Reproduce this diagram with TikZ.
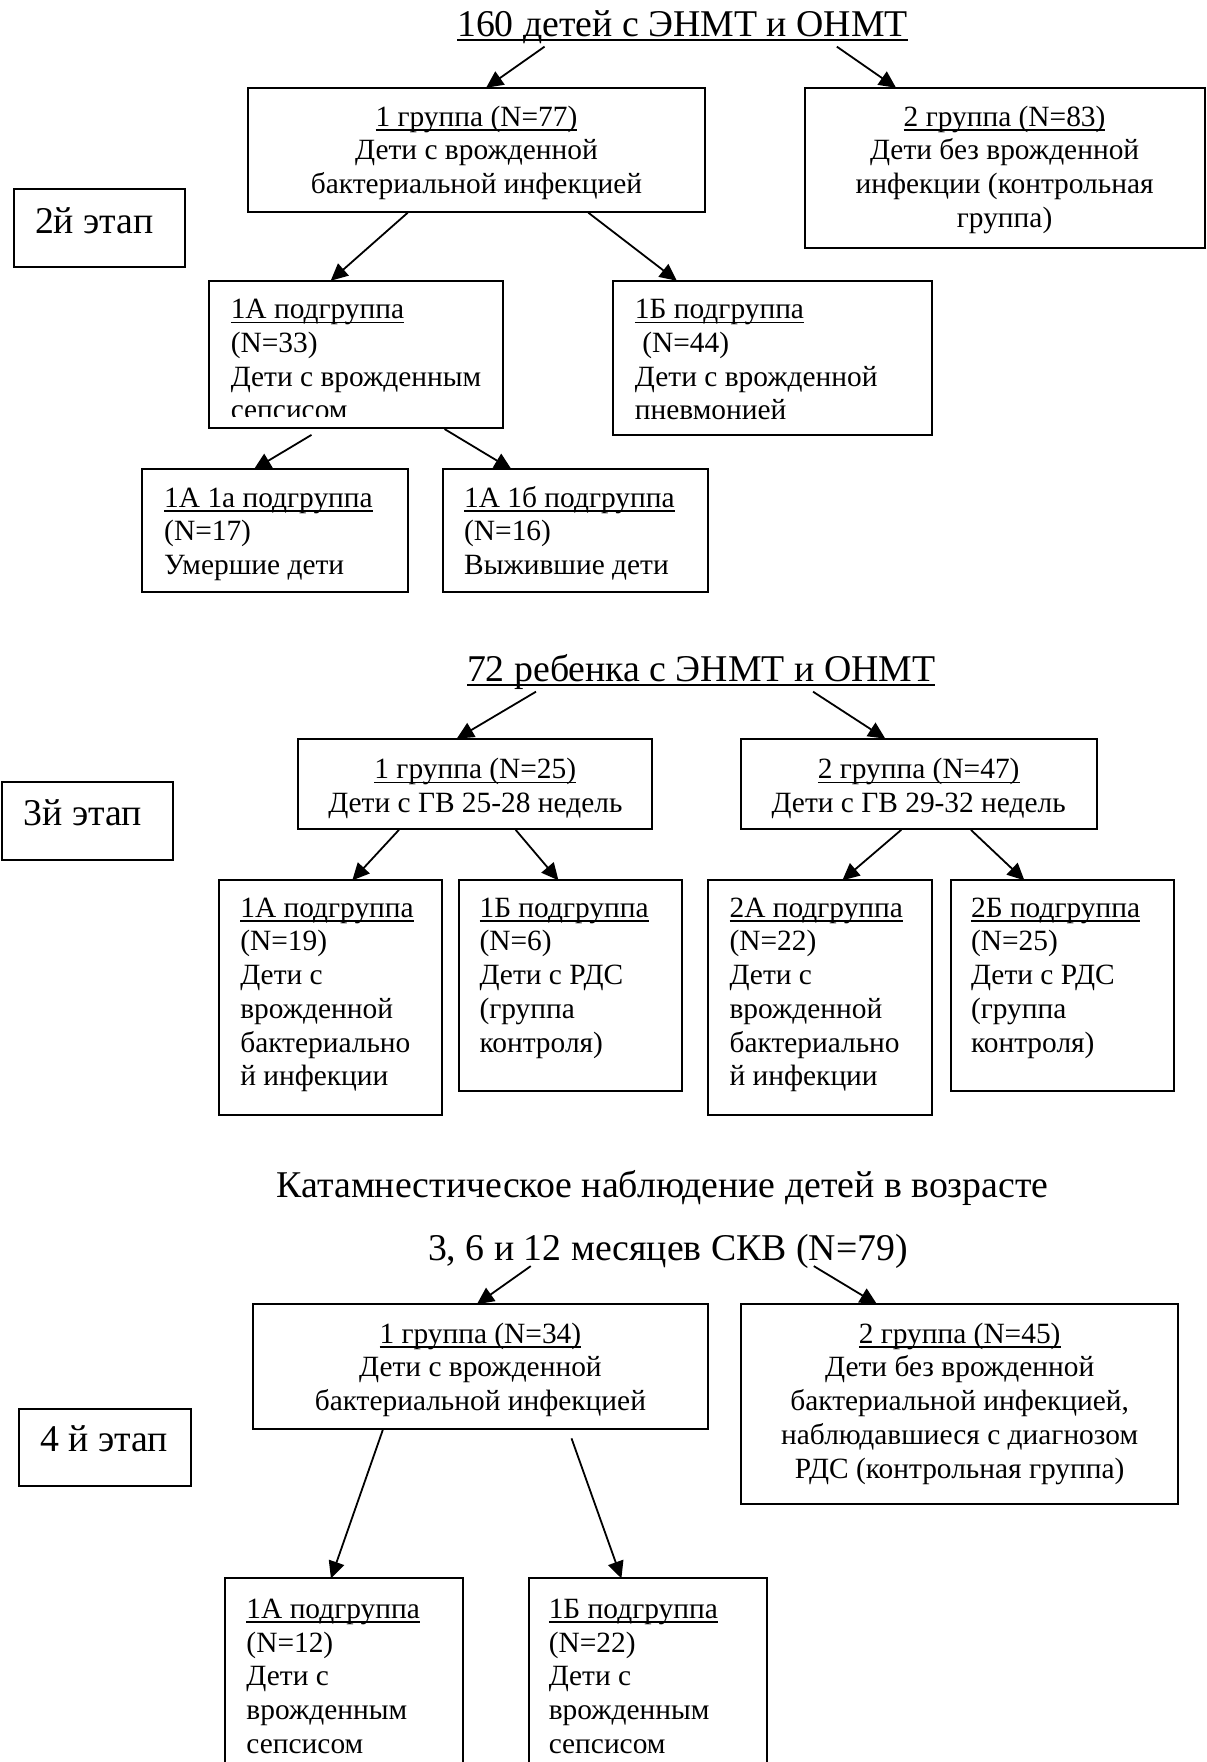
\documentclass[tikz,border=0pt]{standalone}
\usepackage{fontspec}
\setmainfont{Liberation Serif}
\usetikzlibrary{arrows.meta,fit}
\newcommand\myul[1]{\setbox0=\hbox{#1}\rlap{\rule[-2.2pt]{\wd0}{0.7pt}}\box0}
\newcommand\fst{\rule{0pt}{11.8pt}}
\begin{document}
\begin{tikzpicture}[x=0.5619pt,y=-0.5619pt,
  box/.style={draw, line width=1pt, inner sep=0pt},
  arr/.style={line width=0.9pt, -{Triangle[length=8.5pt,width=8pt]}},
  bt/.style={font=\fontsize{14.7pt}{16.86pt}\selectfont, inner sep=0pt, align=left, anchor=north west},
  ct/.style={font=\fontsize{14.7pt}{16.86pt}\selectfont, inner sep=0pt, align=center, anchor=north},
  tt/.style={font=\fontsize{18.9pt}{21.7pt}\selectfont, inner sep=0pt, anchor=base},
  st/.style={font=\fontsize{18.9pt}{21.7pt}\selectfont, inner sep=0pt, anchor=base west}]
\clip (0,0) rectangle (1074,1568);
\fill[white] (0,0) rectangle (1074,1568);

% ================= Stage 2 =================
\node[tt] (title2) at (607.4,32.4) {\myul{160 детей с ЭНМТ и ОНМТ}};
\node[box, fit={(12.3,168) (164.3,238)}] (st2) {};
\node[st] (st2t) at (30.8,207.6) {2й этап};
\node[box, fit={(221,78.1) (627,188.6)}] (g1a) {};
\node[ct] (g1at) at (424,91) {\fst\myul{1 группа (N=77)}\\Дети с врожденной\\бактериальной инфекцией};
\node[box, fit={(716,78.1) (1072.5,221)}] (g2a) {};
\node[ct] (g2at) at (894,91) {\fst\myul{2 группа (N=83)}\\Дети без врожденной\\инфекции (контрольная\\группа)};
\node[box, fit={(186,249.8) (447.6,380.7)}] (s1A) {};
\begin{scope}
\clip (186,249.8) rectangle (447.6,370.3);
\node[bt] (s1At) at (205,262.3) {\fst\myul{1А подгруппа}\\(N=33)\\Дети с врожденным\\сепсисом};
\end{scope}
\node[box, fit={(545.5,249.8) (829.6,387)}] (s1B) {};
\node[bt] (s1Bt) at (564.7,262.3) {\fst\myul{1Б подгруппа}\\\hspace*{0.25em}(N=44)\\Дети с врожденной\\пневмонией};
\node[box, fit={(126.6,417.7) (363.4,526.7)}] (s1a) {};
\node[bt] (s1at) at (145.8,430) {\fst\myul{1А 1а подгруппа}\\(N=17)\\Умершие дети};
\node[box, fit={(394,417.7) (630.4,526.7)}] (s1b) {};
\node[bt] (s1bt) at (412.7,430) {\fst\myul{1А 1б подгруппа}\\(N=16)\\Выжившие дети};

\coordinate (p1) at (484.6,41.5);  \coordinate (q1) at (432.6,78.1);
\coordinate (p2) at (744.7,41.5);  \coordinate (q2) at (797.4,78.1);
\coordinate (p3) at (362.8,189.3); \coordinate (q3) at (294.3,249.8);
\coordinate (p4) at (523.6,189.3); \coordinate (q4) at (602.3,249.8);
\coordinate (p5) at (277.2,387);   \coordinate (q5) at (225.9,417.7);
\coordinate (p6) at (395.6,381.8); \coordinate (q6) at (455.2,417.7);
\draw[arr] (p1) -- (q1);
\draw[arr] (p2) -- (q2);
\draw[arr] (p3) -- (q3);
\draw[arr] (p4) -- (q4);
\draw[arr] (p5) -- (q5);
\draw[arr] (p6) -- (q6);

% ================= Stage 3 =================
\node[tt] (title3) at (624,606.3) {\myul{72 ребенка с ЭНМТ и ОНМТ}};
\node[box, fit={(1.4,696.3) (154,765.7)}] (st3) {};
\node[st] (st3t) at (20.5,734.7) {3й этап};
\node[box, fit={(265.6,657.3) (580.4,737.7)}] (g1b) {};
\node[ct] (g1bt) at (423,671.7) {\fst\myul{1 группа (N=25)}\\Дети с ГВ 25-28 недель};
\node[box, fit={(659,657.3) (976,737.7)}] (g2b) {};
\node[ct] (g2bt) at (817.5,671.7) {\fst\myul{2 группа (N=47)}\\Дети с ГВ 29-32 недель};
\node[box, fit={(195,783.4) (393.6,992.3)}] (t1A) {};
\node[bt] (t1At) at (213.5,794.8) {\fst\myul{1А подгруппа}\\(N=19)\\Дети с\\врожденной\\бактериально\\й инфекции};
\node[box, fit={(408.6,783.4) (607,970.8)}] (t1B) {};
\node[bt] (t1Bt) at (426.4,794.8) {\fst\myul{1Б подгруппа}\\(N=6)\\Дети с РДС\\(группа\\контроля)};
\node[box, fit={(630.4,783.4) (829.6,992.3)}] (t2A) {};
\node[bt] (t2At) at (648.9,794.8) {\fst\myul{2А подгруппа}\\(N=22)\\Дети с\\врожденной\\бактериально\\й инфекции};
\node[box, fit={(846,783.4) (1045,970.8)}] (t2B) {};
\node[bt] (t2Bt) at (863.8,794.8) {\fst\myul{2Б подгруппа}\\(N=25)\\Дети с РДС\\(группа\\контроля)};

\coordinate (p7) at (477,615.5);   \coordinate (q7) at (406.5,657.3);
\coordinate (p8) at (723.5,615.5); \coordinate (q8) at (787.8,657.3);
\coordinate (p9) at (355,738.5);   \coordinate (q9) at (313.5,783.4);
\coordinate (p10) at (458.9,738.5); \coordinate (q10) at (497,783.4);
\coordinate (p11) at (802,738.5);  \coordinate (q11) at (749.6,783.4);
\coordinate (p12) at (864,738.5);  \coordinate (q12) at (911.6,783.4);
\draw[arr] (p7) -- (q7);
\draw[arr] (p8) -- (q8);
\draw[arr] (p9) -- (q9);
\draw[arr] (p10) -- (q10);
\draw[arr] (p11) -- (q11);
\draw[arr] (p12) -- (q12);

% ================= Stage 4 =================
\node[tt] (title4a) at (589.7,1065.6) {Катамнестическое наблюдение детей в возрасте};
\node[tt] (title4b) at (594.4,1122) {3, 6 и 12 месяцев СКВ (N=79)};
\node[box, fit={(17,1253.5) (170,1322.7)}] (st4) {};
\node[st] (st4t) at (35.6,1291.6) {4 й этап};
\node[box, fit={(225,1160.6) (630,1271.5)}] (g1c) {};
\node[ct] (g1ct) at (427.5,1174) {\fst\myul{1 группа (N=34)}\\Дети с врожденной\\бактериальной инфекцией};
\node[box, fit={(659,1160.6) (1048.7,1338.6)}] (g2c) {};
\node[ct] (g2ct) at (854,1174) {\fst\myul{2 группа (N=45)}\\Дети без врожденной\\бактериальной инфекцией,\\наблюдавшиеся с диагнозом\\РДС (контрольная группа)};
\node[box, fit={(199.9,1404.6) (412,1700)}] (f1A) {};
\node[bt] (f1At) at (219,1418.9) {\fst\myul{1А подгруппа}\\(N=12)\\Дети с\\врожденным\\сепсисом};
\node[box, fit={(470.9,1404.6) (682.5,1700)}] (f1B) {};
\node[bt] (f1Bt) at (488,1418.9) {\fst\myul{1Б подгруппа}\\(N=22)\\Дети с\\врожденным\\сепсисом};

\coordinate (p13) at (472.3,1126.7); \coordinate (q13) at (424.4,1160.6);
\coordinate (p14) at (724.2,1126.7); \coordinate (q14) at (780.4,1160.6);
\coordinate (p15) at (341,1271.5);   \coordinate (q15) at (294.5,1404.6);
\coordinate (p16) at (508.6,1280);   \coordinate (q16) at (553,1404.6);
\draw[arr] (p13) -- (q13);
\draw[arr] (p14) -- (q14);
\draw[arr] (p15) -- (q15);
\draw[arr] (p16) -- (q16);
\end{tikzpicture}
\end{document}
